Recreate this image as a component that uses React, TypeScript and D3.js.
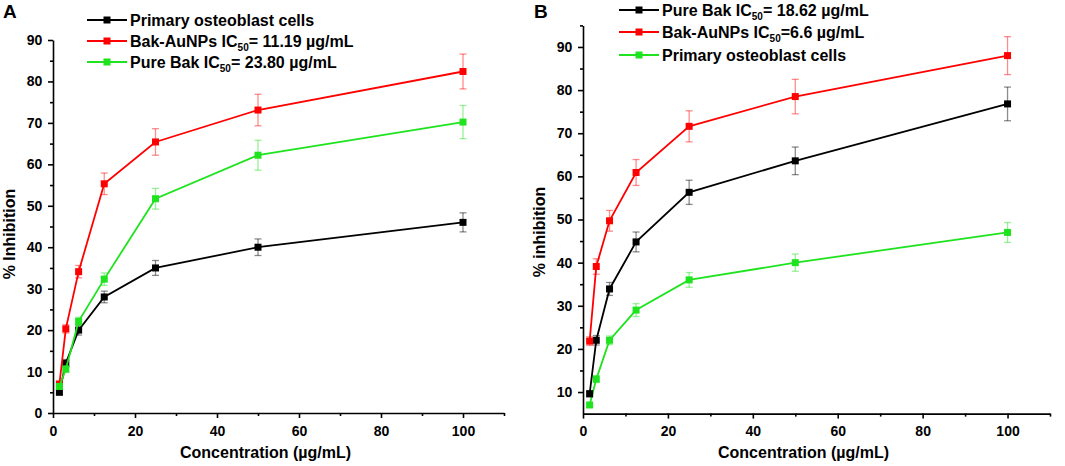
import { useEffect, useRef } from "react";
import * as d3 from "d3";

const conc = [1.5625, 3.125, 6.25, 12.5, 25, 50, 100];

// panel A
const aOsteo = [5, 12, 20, 28, 35, 40, 46];
const aOsteoErr = [0.6, 0.9, 1.2, 1.4, 1.8, 2.0, 2.3];
const aAuNP = [7, 20.3, 34.1, 55.3, 65.4, 73.1, 82.4];
const aAuNPErr = [0.6, 1.0, 1.5, 2.6, 3.2, 3.8, 4.2];
const aBak = [6.4, 10.6, 22.1, 32.3, 51.7, 62.2, 70.2];
const aBakErr = [0.7, 0.8, 1.0, 1.5, 2.5, 3.6, 4.0];

// panel B
const bBak = [9.6, 22, 33.9, 44.8, 56.3, 63.6, 76.8];
const bBakErr = [0.7, 1.1, 1.5, 2.3, 2.8, 3.2, 3.9];
const bAuNP = [21.8, 39.1, 49.7, 60.9, 71.6, 78.5, 88];
const bAuNPErr = [1.0, 1.8, 2.4, 3.0, 3.6, 4.0, 4.4];
const bOsteo = [7, 13, 22, 29, 36, 40, 47];
const bOsteoErr = [0.5, 0.8, 1.0, 1.5, 1.7, 2.0, 2.3];

const xMajor = [0, 20, 40, 60, 80, 100];
const xMinor = [10, 30, 50, 70, 90, 110];
const aYMajor = [0, 10, 20, 30, 40, 50, 60, 70, 80, 90];
const aYMinor = [5, 15, 25, 35, 45, 55, 65, 75, 85];
const bYMajor = [10, 20, 30, 40, 50, 60, 70, 80, 90];
const bYMinor = [15, 25, 35, 45, 55, 65, 75, 85, 95];

const BLACK = "#000000";
const RED = "#ff0000";
const GREEN = "#1fe31f";
const FONT = "Liberation Sans, Arial, sans-serif";

interface Series {
  name: string;
  sub?: string;
  after?: string;
  color: string;
  values: number[];
  errs: number[];
}

export default function App() {
  const ref = useRef<SVGSVGElement | null>(null);

  useEffect(() => {
    if (!ref.current) return;
    document.body.style.margin = "0";
    const svg = d3.select(ref.current);
    svg.selectAll("*").remove();

    const drawPanel = (opts: {
      label: string;
      labelX: number;
      x: d3.ScaleLinear<number, number>;
      y: d3.ScaleLinear<number, number>;
      yMajor: number[];
      yMinor: number[];
      yTitle: string;
      yTitleY: number;
      series: Series[];
      order: number[];
      legendX: number;
      legendY: number[];
    }) => {
      const { x, y } = opts;
      const g = svg.append("g");

      // axes
      const xAxis = g
        .append("g")
        .attr("transform", `translate(0,${y.range()[0]})`)
        .call(
          d3.axisBottom(x).tickValues(opts.label === "" ? [] : xMajor).tickSize(5).tickSizeOuter(0)
        );
      g.append("g")
        .attr("transform", `translate(0,${y.range()[0]})`)
        .call(d3.axisBottom(x).tickValues(xMinor).tickSize(3).tickFormat(() => ""))
        .select(".domain")
        .remove();
      const yAxis = g
        .append("g")
        .attr("transform", `translate(${x.range()[0]},0)`)
        .call(d3.axisLeft(y).tickValues(opts.yMajor).tickSize(5).tickSizeOuter(0));
      g.append("g")
        .attr("transform", `translate(${x.range()[0]},0)`)
        .call(d3.axisLeft(y).tickValues(opts.yMinor).tickSize(3).tickFormat(() => ""))
        .select(".domain")
        .remove();
      for (const ax of [xAxis, yAxis]) {
        ax.selectAll("path,line").attr("stroke", "#000").attr("stroke-width", 1.6);
        ax.selectAll("text")
          .attr("font-family", FONT)
          .attr("font-weight", "bold")
          .attr("font-size", 14)
          .attr("fill", "#000");
      }
      g.selectAll("g.tick line").attr("stroke", "#000").attr("stroke-width", 1.6);
      xAxis.selectAll("text").attr("dy", "1.05em");
      yAxis.selectAll("text").attr("dx", "-0.2em");

      // titles
      const [x0, x1] = x.range();
      g.append("text")
        .attr("x", (x0 + x1) / 2 - 13)
        .attr("y", 458)
        .attr("text-anchor", "middle")
        .attr("font-family", FONT)
        .attr("font-weight", "bold")
        .attr("font-size", 16)
        .text("Concentration (µg/mL)");
      g.append("text")
        .attr("transform", `translate(${x0 - 38},${opts.yTitleY}) rotate(-90)`)
        .attr("text-anchor", "middle")
        .attr("font-family", FONT)
        .attr("font-weight", "bold")
        .attr("font-size", 16)
        .text(opts.yTitle);
      g.append("text")
        .attr("x", opts.labelX)
        .attr("y", 18)
        .attr("font-family", FONT)
        .attr("font-weight", "bold")
        .attr("font-size", 19)
        .text(opts.label);

      const line = d3
        .line<number>()
        .x((_, i) => x(conc[i]))
        .y((d) => y(d));

      for (const idx of opts.order) {
        const s = opts.series[idx];
        const sg = g.append("g");
        // error bars
        const eb = sg.append("g").attr("stroke", s.color).attr("stroke-opacity", 0.45).attr("stroke-width", 1.3);
        s.values.forEach((v, i) => {
          const cx = x(conc[i]);
          const top = y(v + s.errs[i]);
          const bot = y(v - s.errs[i]);
          eb.append("line").attr("x1", cx).attr("x2", cx).attr("y1", top).attr("y2", bot);
          eb.append("line").attr("x1", cx - 3.5).attr("x2", cx + 3.5).attr("y1", top).attr("y2", top);
          eb.append("line").attr("x1", cx - 3.5).attr("x2", cx + 3.5).attr("y1", bot).attr("y2", bot);
        });
        sg.append("path")
          .attr("d", line(s.values))
          .attr("fill", "none")
          .attr("stroke", s.color)
          .attr("stroke-width", 1.8);
        sg.selectAll("rect")
          .data(s.values)
          .join("rect")
          .attr("x", (_, i) => x(conc[i]) - 3.5)
          .attr("y", (d) => y(d) - 3.5)
          .attr("width", 7)
          .attr("height", 7)
          .attr("fill", s.color);
      }

      // legend
      opts.series.forEach((s, i) => {
        const ly = opts.legendY[i];
        const lg = g.append("g").attr("transform", `translate(${opts.legendX},${ly})`);
        lg.append("line").attr("x1", 0).attr("x2", 40).attr("stroke", s.color).attr("stroke-width", 2);
        lg.append("rect").attr("x", 16.5).attr("y", -3.5).attr("width", 7).attr("height", 7).attr("fill", s.color);
        const t = lg
          .append("text")
          .attr("x", 43)
          .attr("y", 6)
          .attr("font-family", FONT)
          .attr("font-weight", "bold")
          .attr("font-size", 16);
        t.append("tspan").text(s.name);
        if (s.sub) {
          t.append("tspan").attr("font-size", 10).attr("dy", 4).text(s.sub);
          t.append("tspan").attr("dy", -4).text(s.after ?? "");
        }
      });
    };

    drawPanel({
      label: "A",
      labelX: 3,
      x: d3.scaleLinear([0, 110], [53, 504]),
      y: d3.scaleLinear([0, 90], [413, 40]),
      yMajor: aYMajor,
      yMinor: aYMinor,
      yTitle: "% Inhibition",
      yTitleY: 234,
      series: [
        { name: "Primary osteoblast cells", color: BLACK, values: aOsteo, errs: aOsteoErr },
        { name: "Bak-AuNPs IC", sub: "50", after: "= 11.19 µg/mL", color: RED, values: aAuNP, errs: aAuNPErr },
        { name: "Pure Bak IC", sub: "50", after: "= 23.80 µg/mL", color: GREEN, values: aBak, errs: aBakErr },
      ],
      order: [0, 1, 2],
      legendX: 87,
      legendY: [20, 41, 62],
    });

    drawPanel({
      label: "B",
      labelX: 534,
      x: d3.scaleLinear([0, 110], [583, 1050]),
      y: d3.scaleLinear([5, 95], [413.6, 25.4]),
      yMajor: bYMajor,
      yMinor: bYMinor,
      yTitle: "% inhibition",
      yTitleY: 232,
      series: [
        { name: "Pure Bak IC", sub: "50", after: "= 18.62 µg/mL", color: BLACK, values: bBak, errs: bBakErr },
        { name: "Bak-AuNPs IC", sub: "50", after: "=6.6 µg/mL", color: RED, values: bAuNP, errs: bAuNPErr },
        { name: "Primary osteoblast cells", color: GREEN, values: bOsteo, errs: bOsteoErr },
      ],
      order: [2, 0, 1],
      legendX: 619,
      legendY: [10, 32, 55],
    });
  }, []);

  return <svg ref={ref} width={1065} height={466} style={{ display: "block", background: "#fff" }} />;
}
